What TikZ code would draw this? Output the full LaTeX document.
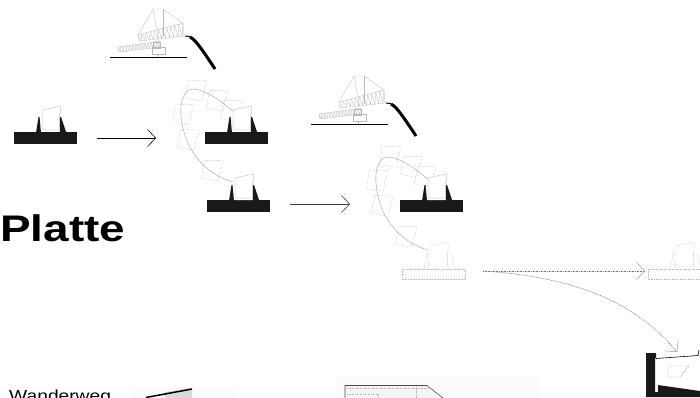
\documentclass[tikz,border=0pt]{standalone}
\usepackage{fontspec}
\setmainfont{Liberation Sans}
\usetikzlibrary{arrows.meta, calc}
\tikzset{
    ghost/.style={draw=black!28, line width=0.3pt},
    ghostdot/.style={draw=black!28, line width=0.4pt, dash pattern=on 0.7pt off 0.9pt},
    swing/.style={draw=black!40, line width=0.35pt},
    solidarrow/.style={line width=0.6pt, -{Straight Barb[length=8pt, width=17pt, line width=0.6pt]}},
    dotarrow/.style={draw=black!55, line width=0.6pt, dash pattern=on 0.8pt off 0.8pt, -{Straight Barb[length=8pt, width=17pt, line width=0.5pt, black!40]}},
    % block on its own, centred, for the swing positions
    pics/swingblock/.style={code={
        \draw[ghostdot] (-9,-8) -- (9,-11) -- (9,-4) -- (8,-4) -- (8,10) -- (-9,10) -- cycle;
    }},
    % plinth with two wedges, origin at the left top corner
    pics/plinth/.style={code={
        \fill[black!90] (0,0) rectangle (63,12);
        \fill[black!90] (22,1) -- (24.5,-15) -- (25.5,-15) -- (27,1) -- cycle;
        \fill[black!90] (45.5,-15) -- (47,-15) -- (51.7,-1) -- (53,1) -- (45.5,1) -- cycle;
        \fill[white] (28,-22) -- (46.5,-26) -- (46.5,-18) -- (45.5,-18) -- (45.5,0) -- (28,0) -- cycle;
        \draw[draw=black!22, line width=0.5pt] (28,-22) -- (46.5,-26) -- (46.5,-18) -- (45.5,-18) -- (45.5,-2) -- (28,-2) -- cycle;
    }},
    % the same plinth in dots only
    pics/ghostplinth/.style={code={
        \draw[ghostdot] (0,1) rectangle (63,11);
        \draw[ghostdot] (22,1) -- (25.5,-15) -- (27,1);
        \draw[ghostdot] (45.5,-15) -- (46,1) -- (53,1) -- (49,-15);
        \draw[ghostdot] (28,-22) -- (46.5,-26) -- (46.5,-18) -- (45.5,-18) -- (45.5,-2) -- (28,-2) -- cycle;
    }},
    % crane with its ground line, origin at the left end of the line
    pics/crane/.style={code={
        \draw[line width=0.6pt] (0,0) -- (77,0);
        \draw[ghost] (43,-48) -- (53,-48) -- (73,-34);
        \draw[ghost] (43,-48) -- (28,-22);
        \draw[ghost] (43,-48) -- (49,-16);
        \draw[ghost] (53,-48) -- (53,-20);
        % upper jib
        \draw[ghost] (28,-22) -- (73,-34) -- (74,-21) -- (29,-16) -- cycle;
        \foreach \i in {0,...,10} {
            \draw[ghost] ($(28,-22)!\i/11!(73,-34)$) -- ($(29,-16)!\i/11+0.045!(74,-21)$) -- ($(28,-22)!\i/11+0.09!(73,-34)$);
        }
        % lower jib
        \draw[ghost] (8,-10) -- (50,-16) -- (50,-10) -- (9,-5) -- cycle;
        \foreach \i in {0,...,13} {
            \draw[ghost] ($(8,-10)!\i/14!(50,-16)$) -- ($(9,-5)!\i/14+0.035!(50,-10)$) -- ($(8,-10)!\i/14+0.07!(50,-16)$);
        }
        \draw[ghost] (43,-15) rectangle (50,-9);
        \draw[ghost] (42,-10) rectangle (55,-3);
        \draw[ghost] (47,-3) -- (47,0);
        % black cable
        \draw[line width=1pt] (75,-21) -- (80,-20.5);
        \draw[line width=3pt] (80,-20) .. controls (84,-18) and (88,-14) .. (105,12);
    }}
}
\begin{document}
\begin{tikzpicture}[x=1pt, y=-1pt]
    \useasboundingbox (0,0) rectangle (700,398);
    \clip (0,0) rectangle (700,398);

    % faint background of the cut-off pictures
    \fill[black!1] (130,388) rectangle (235,398);
    \fill[black!1] (335,376) rectangle (540,398);

    % Start
    \pic at (14,132) {plinth};
    \coordinate (first_start) at (97,138);
    \coordinate (first_end) at (156,138);
    \draw[solidarrow] (first_start) -- (first_end);

    % First swing
    \pic at (110,57) {crane};
    \foreach \px/\py/\rot in {196/90/-8, 183/114/-8, 188/139/-12, 212/170/-10, 217/100/-10, 231/110/-10} {
        \pic[rotate=\rot] at (\px,\py) {swingblock};
    }
    \draw[swing] (240,118) .. controls (222,100) and (198,85) .. (189,90)
        .. controls (178,96) and (180,118) .. (184,132)
        .. controls (190,155) and (208,175) .. (233,182);
    \pic at (205,132) {plinth};
    \pic at (207,200) {plinth};
    \coordinate (second_start) at (290,204);
    \coordinate (second_end) at (350,204);
    \draw[solidarrow, draw=black!75] (second_start) -- (second_end);

    % Second swing
    \pic at (311,124) {crane};
    \foreach \px/\py/\rot in {390/156/-8, 377/180/-8, 382/205/-12, 406/236/-10, 411/166/-10, 425/176/-10} {
        \pic[rotate=\rot] at (\px,\py) {swingblock};
    }
    \draw[swing] (435,186) .. controls (417,168) and (393,153) .. (384,158)
        .. controls (373,164) and (375,186) .. (379,200)
        .. controls (385,223) and (403,243) .. (428,250);
    \pic at (400,200) {plinth};
    \pic at (402,268) {ghostplinth};

    % Dotted ways out
    \pic at (648,268) {ghostplinth};
    \coordinate (way_start) at (483,271);
    \coordinate (way_flat) at (645,271);
    \coordinate (way_down) at (677,352);
    \draw[dotarrow] (way_start) -- (way_flat);
    \draw[dotarrow] (way_start) .. controls (560,276) and (630,295) .. (way_down);

    % Section on the right
    \fill[black!90] (646,353) -- (656,353) -- (656,358) -- (655,358) -- (655,392) -- (658,392) -- (658,385)
        -- (700,391) -- (700,397) -- (646,397) -- cycle;
    \draw[line width=0.6pt] (656,358.5) -- (698,355.5) -- (699,350);
    \draw[draw=black!30, line width=0.4pt] (668,366) -- (689,366) -- (680,377) -- (668,377) -- cycle;

    % Cut-off pictures at the bottom
    \fill[black!15] (165,392) -- (192,388) -- (192,398) -- (165,398) -- cycle;
    \draw[line width=1.5pt] (146,397.5) -- (192,389);
    \fill[black!4] (345,386) -- (427,386) -- (443,398) -- (345,398) -- cycle;
    \draw[draw=black!70, line width=0.6pt] (345,398) -- (345,385.5) -- (427,385.5) -- (443,398);
    \draw[ghostdot] (347,388) -- (431,388);
    \draw[ghostdot] (347,394) -- (378,394) -- (378,398);
    \draw[ghostdot] (416,386) -- (416,398);

    % Labels
    \node (platte_label) [anchor=base west, inner sep=0pt, xscale=1.24, font=\fontsize{37}{37}\selectfont\bfseries] at (0,241) {Platte};
    \node (wanderweg_label) [anchor=base west, inner sep=0pt, xscale=1.2, font=\fontsize{16}{16}\selectfont] at (9,401) {Wanderweg};
\end{tikzpicture}
\end{document}
